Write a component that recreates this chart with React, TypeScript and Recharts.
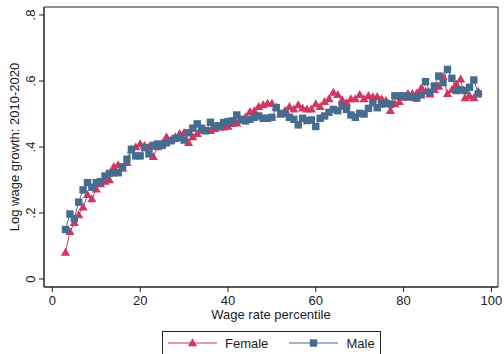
import React from 'react';
import { LineChart, Line, XAxis, YAxis, ReferenceArea } from 'recharts';

// wage-rate percentile (x) and log wage growth 2010-2020 by sex
const percentiles = [
  3, 4, 5, 6, 7, 8, 9, 10, 11, 12, 13, 14, 15, 16, 17, 18, 19, 20, 21, 22,
  23, 24, 25, 26, 27, 28, 29, 30, 31, 32, 33, 34, 35, 36, 37, 38, 39, 40, 41, 42,
  43, 44, 45, 46, 47, 48, 49, 50, 51, 52, 53, 54, 55, 56, 57, 58, 59, 60, 61, 62,
  63, 64, 65, 66, 67, 68, 69, 70, 71, 72, 73, 74, 75, 76, 77, 78, 79, 80, 81, 82,
  83, 84, 85, 86, 87, 88, 89, 90, 91, 92, 93, 94, 95, 96, 97,
];

const femaleGrowth = [
  0.080, 0.143, 0.170, 0.194, 0.217, 0.255, 0.242, 0.272, 0.288, 0.295,
  0.300, 0.340, 0.345, 0.335, 0.352, 0.390, 0.400, 0.409, 0.404, 0.400,
  0.370, 0.400, 0.410, 0.430, 0.420, 0.430, 0.440, 0.443, 0.413, 0.430,
  0.440, 0.449, 0.449, 0.449, 0.455, 0.460, 0.460, 0.462, 0.470, 0.472,
  0.480, 0.490, 0.507, 0.510, 0.522, 0.527, 0.532, 0.532, 0.520, 0.500,
  0.510, 0.522, 0.514, 0.527, 0.517, 0.514, 0.514, 0.530, 0.522, 0.537,
  0.545, 0.565, 0.558, 0.542, 0.534, 0.545, 0.545, 0.558, 0.545, 0.555,
  0.551, 0.552, 0.545, 0.540, 0.510, 0.530, 0.537, 0.550, 0.561, 0.561,
  0.563, 0.578, 0.568, 0.560, 0.573, 0.583, 0.613, 0.561, 0.573, 0.590,
  0.605, 0.548, 0.555, 0.548, 0.568,
];

const maleGrowth = [
  0.150, 0.197, 0.183, 0.233, 0.270, 0.292, 0.278, 0.292, 0.295, 0.312,
  0.320, 0.322, 0.322, 0.340, 0.363, 0.393, 0.373, 0.373, 0.398, 0.379,
  0.405, 0.409, 0.405, 0.413, 0.419, 0.426, 0.428, 0.421, 0.443, 0.457,
  0.470, 0.457, 0.449, 0.475, 0.464, 0.464, 0.474, 0.477, 0.479, 0.497,
  0.484, 0.479, 0.484, 0.490, 0.494, 0.487, 0.487, 0.490, 0.519, 0.500,
  0.502, 0.490, 0.484, 0.467, 0.487, 0.480, 0.482, 0.462, 0.487, 0.494,
  0.505, 0.514, 0.510, 0.524, 0.514, 0.497, 0.490, 0.502, 0.500, 0.517,
  0.534, 0.519, 0.530, 0.532, 0.530, 0.555, 0.555, 0.555, 0.552, 0.551,
  0.548, 0.558, 0.598, 0.566, 0.585, 0.615, 0.595, 0.635, 0.608, 0.571,
  0.573, 0.571, 0.581, 0.603, 0.561,
];

const xTicks = [0, 20, 40, 60, 80, 100];
const yTicks = [0, 0.2, 0.4, 0.6, 0.8];

const X_DOMAIN = [-1.9, 101.5];
const Y_DOMAIN = [-0.0242, 0.8242];

const FEMALE = '#d03760';
const MALE = '#466c8f';
const AXIS = '#222';
const FONT = '"Liberation Sans", Arial, Helvetica, sans-serif';

const data = percentiles.map((p, i) => ({ pct: p, female: femaleGrowth[i], male: maleGrowth[i] }));

const Triangle = ({ cx, cy, color }) => (
  <path d={`M${cx},${cy - 4.8}L${cx + 4.6},${cy + 3.2}L${cx - 4.6},${cy + 3.2}Z`} fill={color} />
);

const Square = ({ cx, cy, color }) => (
  <rect x={cx - 3.7} y={cy - 3.7} width={7.4} height={7.4} fill={color} />
);

// Stata-style labels: ".8" rather than "0.8"
const fmtY = (v) => (v === 0 ? '0' : String(+v.toFixed(1)).replace('0.', '.'));

const RotatedYTick = ({ x, y, payload }) => (
  <text
    x={x}
    y={y}
    transform={`rotate(-90 ${x} ${y})`}
    textAnchor="middle"
    fontSize={13}
    fontFamily={FONT}
    fill={AXIS}
  >
    {fmtY(payload.value)}
  </text>
);

const Legend = () => (
  <div
    style={{
      position: 'absolute',
      left: 162,
      top: 331,
      width: 219,
      height: 30,
      border: `1px solid ${AXIS}`,
      boxSizing: 'border-box',
      background: '#fff',
    }}
  >
    <svg width={219} height={30} style={{ position: 'absolute', left: -1, top: -1 }}>
      <line x1={6} x2={55} y1={12} y2={12} stroke={FEMALE} strokeWidth={1.2} />
      <Triangle cx={30.5} cy={12} color={FEMALE} />
      <text x={63} y={17} fontSize={13} fontFamily={FONT} fill={AXIS}>Female</text>
      <line x1={127} x2={176} y1={12} y2={12} stroke={MALE} strokeWidth={1.2} />
      <Square cx={151.5} cy={12} color={MALE} />
      <text x={184.5} y={17} fontSize={13} fontFamily={FONT} fill={AXIS}>Male</text>
    </svg>
  </div>
);

export default function App() {
  return (
    <div
      style={{
        position: 'absolute',
        left: 0,
        top: 0,
        width: 504,
        height: 354,
        overflow: 'hidden',
        background: '#fff',
      }}
    >
      <LineChart
        width={504}
        height={354}
        data={data}
        margin={{ top: 7, right: 6, bottom: 37, left: 0 }}
      >
        <XAxis
          dataKey="pct"
          type="number"
          domain={X_DOMAIN}
          ticks={xTicks}
          allowDataOverflow
          height={30}
          tickSize={5}
          tickMargin={4}
          stroke={AXIS}
          tick={{ fontSize: 13, fontFamily: FONT, fill: AXIS }}
          label={{
            content: () => (
              <text x={271} y={319} textAnchor="middle" fontSize={13} fontFamily={FONT} fill={AXIS}>
                Wage rate percentile
              </text>
            ),
          }}
        />
        <YAxis
          type="number"
          domain={Y_DOMAIN}
          ticks={yTicks}
          allowDataOverflow
          width={44}
          tickSize={5}
          tickMargin={4}
          stroke={AXIS}
          tick={<RotatedYTick />}
          label={{
            content: () => (
              <text
                x={19}
                y={147}
                transform="rotate(-90 19 147)"
                textAnchor="middle"
                fontSize={13}
                fontFamily={FONT}
                fill={AXIS}
              >
                Log wage growth: 2010-2020
              </text>
            ),
          }}
        />
        <ReferenceArea
          x1={X_DOMAIN[0]}
          x2={X_DOMAIN[1]}
          y1={Y_DOMAIN[0]}
          y2={Y_DOMAIN[1]}
          fill="none"
          stroke={AXIS}
          strokeWidth={1}
          ifOverflow="visible"
        />
        <Line
          dataKey="female"
          stroke={FEMALE}
          strokeWidth={1}
          dot={(p) => <Triangle key={`f-${p.index}`} cx={p.cx} cy={p.cy} color={FEMALE} />}
          activeDot={false}
          isAnimationActive={false}
        />
        <Line
          dataKey="male"
          stroke={MALE}
          strokeWidth={1}
          dot={(p) => <Square key={`m-${p.index}`} cx={p.cx} cy={p.cy} color={MALE} />}
          activeDot={false}
          isAnimationActive={false}
        />
      </LineChart>
      <Legend />
    </div>
  );
}
